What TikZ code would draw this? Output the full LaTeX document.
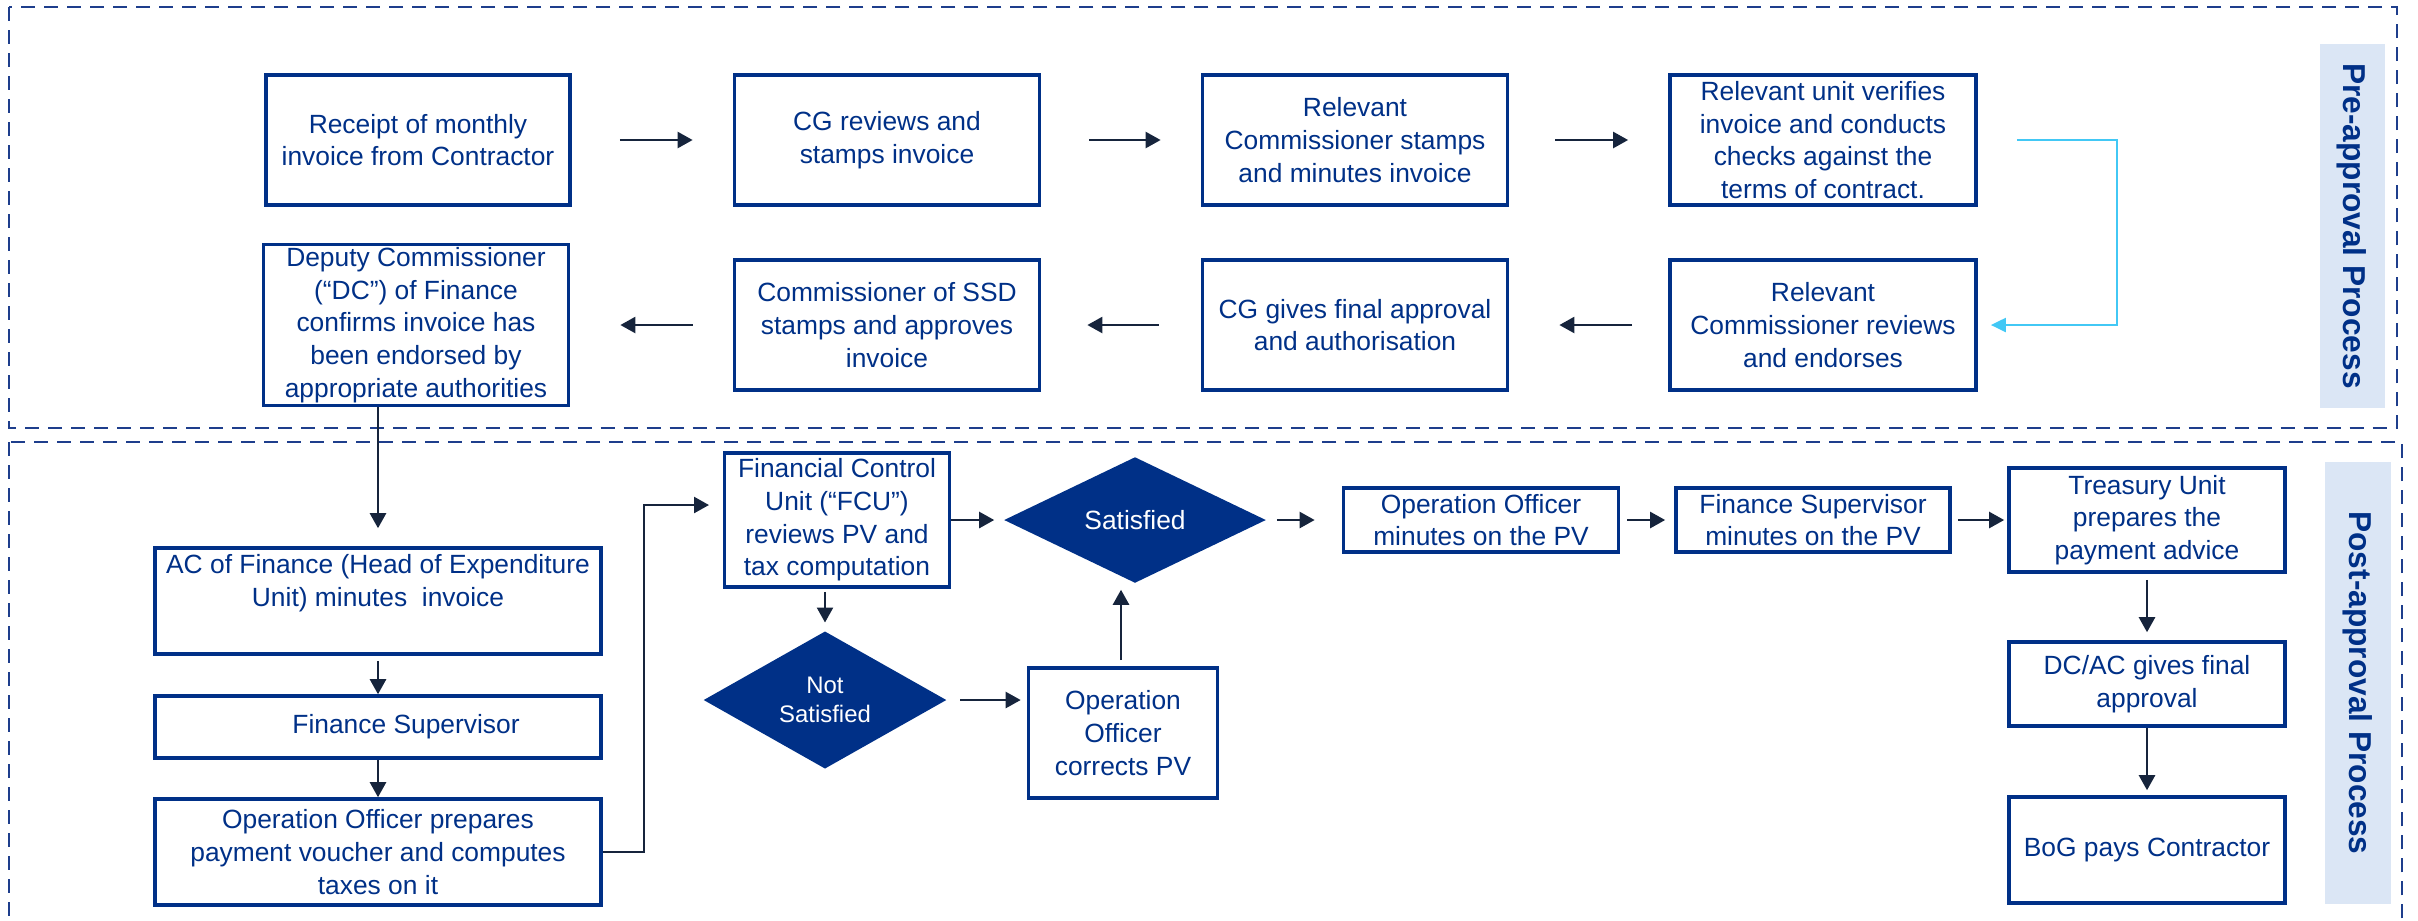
\documentclass[tikz,border=0pt]{standalone}
\usepackage{fontspec}
\setmainfont{Liberation Sans}
\usepackage{tikz}
\usetikzlibrary{arrows.meta,shapes.geometric}

\definecolor{boxblue}{RGB}{0,48,135}
\definecolor{navyarrow}{RGB}{22,36,60}
\definecolor{cyanarrow}{RGB}{66,200,245}
\definecolor{bandfill}{RGB}{219,230,245}
\definecolor{framedash}{RGB}{30,62,140}

\tikzset{
	stepbox/.style={draw=boxblue, line width=1pt, text=boxblue, align=center, inner sep=0pt, font=\fontsize{7.5}{9.3}\selectfont},
	decision/.style={diamond, fill=boxblue, text=white, align=center, inner sep=0pt, font=\fontsize{7.5}{9.3}\selectfont},
	flowarr/.style={draw=navyarrow, line width=0.7pt, -{Triangle[length=1.5mm,width=1.6mm]}},
	loopback/.style={draw=cyanarrow, line width=0.6pt, -{Triangle[length=1.5mm,width=1.4mm]}},
	sideband/.style={fill=bandfill, text=boxblue, rotate=-90, inner sep=0pt, font=\fontsize{9}{11}\selectfont\bfseries},
	zone/.style={draw=framedash, line width=0.7pt, dash pattern=on 1.4mm off 0.9mm}
}

\begin{document}
\begin{tikzpicture}[x=0.01cm, y=-0.01cm]
		\useasboundingbox (0,0) rectangle (2418,920);
		%%%%% FRAMES %%%%%
		\draw[zone] (9,7) rectangle (2397,428);
		\draw[zone] (9,442) rectangle (2402,945);
		
		\node[sideband, minimum width=3.63cm, minimum height=0.65cm] (prelab) at (2352,226) {Pre-approval Process};
		\node[sideband, minimum width=4.41cm, minimum height=0.66cm] (postlab) at (2358,683) {Post-approval Process};
		
		%%%%% PRE-APPROVAL %%%%%
		\node[stepbox, minimum width=3.04cm, minimum height=1.3cm] (receipt) at (418,140) {Receipt of monthly\\invoice from Contractor};
		\node[stepbox, minimum width=3.05cm, minimum height=1.3cm] (cgstamp) at (887,140) {CG reviews and\\stamps invoice};
		\node[stepbox, minimum width=3.05cm, minimum height=1.3cm] (relstamp) at (1355,140) {Relevant\\Commissioner stamps\\and minutes invoice};
		\node[stepbox, minimum width=3.06cm, minimum height=1.3cm] (relunit) at (1823,140) {Relevant unit verifies\\invoice and conducts\\checks against the\\terms of contract.};
		
		\node[stepbox, minimum width=3.05cm, minimum height=1.61cm] (dcfin) at (416,325) {Deputy Commissioner\\(“DC”) of Finance\\confirms invoice has\\been endorsed by\\appropriate authorities};
		\node[stepbox, minimum width=3.05cm, minimum height=1.3cm] (ssd) at (887,325) {Commissioner of SSD\\stamps and approves\\invoice};
		\node[stepbox, minimum width=3.05cm, minimum height=1.3cm] (cgfinal) at (1355,325) {CG gives final approval\\and authorisation};
		\node[stepbox, minimum width=3.06cm, minimum height=1.3cm] (relcomm) at (1823,325) {Relevant\\Commissioner reviews\\and endorses};
		
		\draw[flowarr, shorten <=4.8mm, shorten >=4mm] (receipt) -- (cgstamp);
		\draw[flowarr, shorten <=4.8mm, shorten >=4mm] (cgstamp) -- (relstamp);
		\draw[flowarr, shorten <=4.6mm, shorten >=4mm] (relstamp) -- (relunit);
		\draw[loopback, shorten >=1.3mm] ([xshift=3.9mm]relunit.east) -- ++(100,0) |- (relcomm.east);
		\draw[flowarr, shorten <=3.6mm, shorten >=5mm] (relcomm) -- (cgfinal);
		\draw[flowarr, shorten <=4.2mm, shorten >=4.6mm] (cgfinal) -- (ssd);
		\draw[flowarr, shorten <=4mm, shorten >=5mm] (ssd) -- (dcfin);
		
		%%%%% POST-APPROVAL %%%%%
		\node[stepbox, minimum width=4.46cm, minimum height=1.06cm] (acfin) at (378,601) {};
		\node[stepbox, draw=none] (acfintext) at (378,583) {AC of Finance (Head of Expenditure\\Unit) minutes~~invoice};
		\node[stepbox, minimum width=4.46cm, minimum height=0.62cm] (finsup) at (378,727) {\hspace*{5.6mm}Finance Supervisor};
		\node[stepbox, minimum width=4.46cm, minimum height=1.06cm] (ooprep) at (378,852) {Operation Officer prepares\\payment voucher and computes\\taxes on it};
		
		\node[stepbox, minimum width=2.25cm, minimum height=1.34cm] (fcu) at (837,520) {Financial Control\\Unit (“FCU”)\\reviews PV and\\tax computation};
		\node[decision, minimum width=2.62cm, minimum height=1.26cm] (sat) at (1135,520) {Satisfied};
		\node[decision, minimum width=2.43cm, minimum height=1.27cm, font=\fontsize{6.8}{8.3}\selectfont] (notsat) at (825,700) {Not\\Satisfied};
		\node[stepbox, minimum width=1.89cm, minimum height=1.3cm] (oocorr) at (1123,733) {Operation\\Officer\\corrects PV};
		
		\node[stepbox, minimum width=2.75cm, minimum height=0.64cm] (oomin) at (1481,520) {Operation Officer\\minutes on the PV};
		\node[stepbox, minimum width=2.74cm, minimum height=0.64cm] (fsmin) at (1813,520) {Finance Supervisor\\minutes on the PV};
		\node[stepbox, minimum width=2.76cm, minimum height=1.04cm] (treasury) at (2147,520) {Treasury Unit\\prepares the\\payment advice};
		\node[stepbox, minimum width=2.76cm, minimum height=0.84cm] (dcac) at (2147,684) {DC/AC gives final\\approval};
		\node[stepbox, minimum width=2.76cm, minimum height=1.06cm] (bog) at (2147,850) {BoG pays Contractor};
		
		\coordinate (fcuin) at (709,505);
		
		\draw[flowarr, shorten >=1.8mm] (dcfin.south -| acfin) -- (acfin);
		\draw[flowarr, shorten <=0.5mm] (acfin) -- (finsup);
		\draw[flowarr] (finsup) -- (ooprep);
		\draw[flowarr] (ooprep.east) -- ++(41,0) |- (fcuin);
		\draw[flowarr, shorten >=0.9mm] (fcu) -- (sat);
		\draw[flowarr, shorten <=0.3mm, shorten >=0.8mm] (fcu.south -| notsat) -- (notsat);
		\draw[flowarr, shorten <=1.3mm, shorten >=0.6mm] (notsat) -- (notsat -| oocorr.west);
		\draw[flowarr, shorten <=0.6mm, shorten >=0.6mm] ([xshift=-0.2mm]oocorr.north) -- ([xshift=-0.2mm]oocorr.north |- sat.south);
		\draw[flowarr, shorten <=1mm, shorten >=2.7mm] (sat) -- (oomin);
		\draw[flowarr, shorten <=0.7mm, shorten >=0.9mm] (oomin) -- (fsmin);
		\draw[flowarr, shorten <=0.6mm, shorten >=0.3mm] (fsmin) -- (treasury);
		\draw[flowarr, shorten <=0.6mm, shorten >=0.8mm] (treasury) -- (dcac);
		\draw[flowarr, shorten >=0.5mm] (dcac) -- (bog);
	\end{tikzpicture}
\end{document}
